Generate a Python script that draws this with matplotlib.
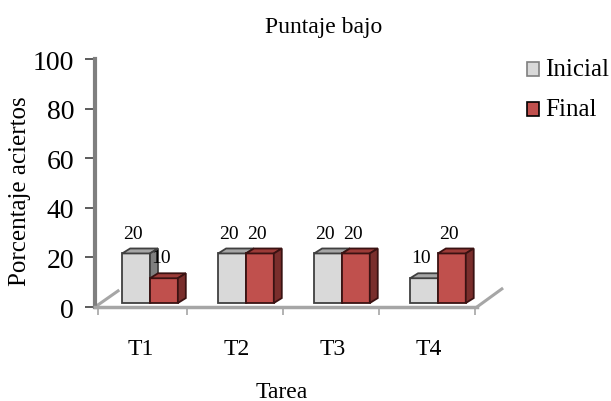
import numpy as np
import matplotlib.pyplot as plt
import matplotlib.transforms as mtransforms
from matplotlib.patches import Polygon

plt.rcParams['font.family'] = ['Liberation Serif', 'DejaVu Serif']

# datos del gráfico
tareas = ['T1', 'T2', 'T3', 'T4']
inicial = [20, 20, 20, 10]
final = [10, 20, 20, 20]
series = ['Inicial', 'Final']

# estilo de las barras (cara frontal, superior, lateral, borde)
colores = {
    'Inicial': ('#d9d9d9', '#a6a6a6', '#7f7f7f', '#404040'),
    'Final': ('#c0504d', '#9c3b38', '#7a2e2c', '#3a1212'),
}

ancho = 0.29
base = 1.6      # elevación de la cara frontal sobre el piso
prof_x = 0.083  # profundidad de las barras
prof_y = 2.0


def barra_3d(ax, x0, valor, serie):
    frente, arriba, lado, borde = colores[serie]
    x1 = x0 + ancho
    top = base + valor
    ax.bar(x0, valor, width=ancho, bottom=base, align='edge',
           color=frente, edgecolor=borde, linewidth=1.3, zorder=3)
    cara_sup = [(x0, top), (x0 + prof_x, top + prof_y),
                (x1 + prof_x, top + prof_y), (x1, top)]
    cara_lat = [(x1, base), (x1 + prof_x, base + prof_y),
                (x1 + prof_x, top + prof_y), (x1, top)]
    ax.add_patch(Polygon(cara_sup, closed=True, facecolor=arriba,
                         edgecolor=borde, linewidth=1.3, zorder=3))
    ax.add_patch(Polygon(cara_lat, closed=True, facecolor=lado,
                         edgecolor=borde, linewidth=1.3, zorder=3))
    ax.text(x0 + ancho / 2 - 0.03, top + prof_y + 4.4, str(valor),
            ha='center', va='baseline', fontsize=14, zorder=4)


fig = plt.figure(figsize=(6.11, 4.02), dpi=100)
ax = fig.add_axes([0.1555, 0.2338, 0.625, 0.6169])

x = np.arange(len(tareas))
for i in x:
    barra_3d(ax, i - ancho, inicial[i], 'Inicial')
    barra_3d(ax, i, final[i], 'Final')

x_min, x_max = -0.573, 3.406
ax.set_xlim(x_min, x_max)
ax.set_ylim(0, 100)

# piso en perspectiva
ax.plot([x_min, x_min + 0.24], [0, 6.5], color='#a6a6a6', lw=2.2,
        clip_on=False, zorder=2)
ax.plot([x_max, x_max + 0.26], [0, 7.3], color='#a6a6a6', lw=2.2,
        clip_on=False, zorder=2)

for s in ['top', 'right']:
    ax.spines[s].set_visible(False)
ax.spines['left'].set_color('#7f7f7f')
ax.spines['left'].set_linewidth(3)
ax.spines['bottom'].set_color('#a6a6a6')
ax.spines['bottom'].set_linewidth(2.5)

ax.set_yticks(np.arange(0, 101, 20))
ax.tick_params(axis='y', direction='out', length=7, width=1.2,
               color='#404040', labelsize=20, pad=8)

# separadores de categorías en el eje x
ax.set_xticks([x_min + 0.03, 0.385, 1.385, 2.385, 3.385])
ax.set_xticklabels([])
ax.tick_params(axis='x', direction='out', length=6, width=1.2,
               color='#a6a6a6')

# nombres de las tareas
trans = mtransforms.blended_transform_factory(ax.transData, fig.transFigure)
for i, t in zip(x, tareas):
    ax.text(i - 0.1, 1 - 355 / 402, t, transform=trans, ha='center',
            va='baseline', fontsize=17)

fig.text(0.5295, 0.918, 'Puntaje bajo', ha='center', va='baseline',
         fontsize=17)
fig.text(0.033, 0.525, 'Porcentaje aciertos', rotation=90, ha='center',
         va='center', fontsize=18)
fig.text(0.461, 0.01, 'Tarea', ha='center', va='baseline', fontsize=17)

# leyenda
for serie, y in zip(series, [1 - 70 / 402, 1 - 110 / 402]):
    frente, _, _, borde = colores[serie]
    ec = '#7f7f7f' if serie == 'Inicial' else '#000000'
    fig.patches.append(plt.Rectangle((0.8625, y - 0.0175), 0.0196, 0.035,
                                     transform=fig.transFigure,
                                     facecolor=frente, edgecolor=ec,
                                     linewidth=1.2))
    fig.text(0.892, y, serie, fontsize=18, va='center', ha='left')

fig.savefig('out.png', dpi=100)
